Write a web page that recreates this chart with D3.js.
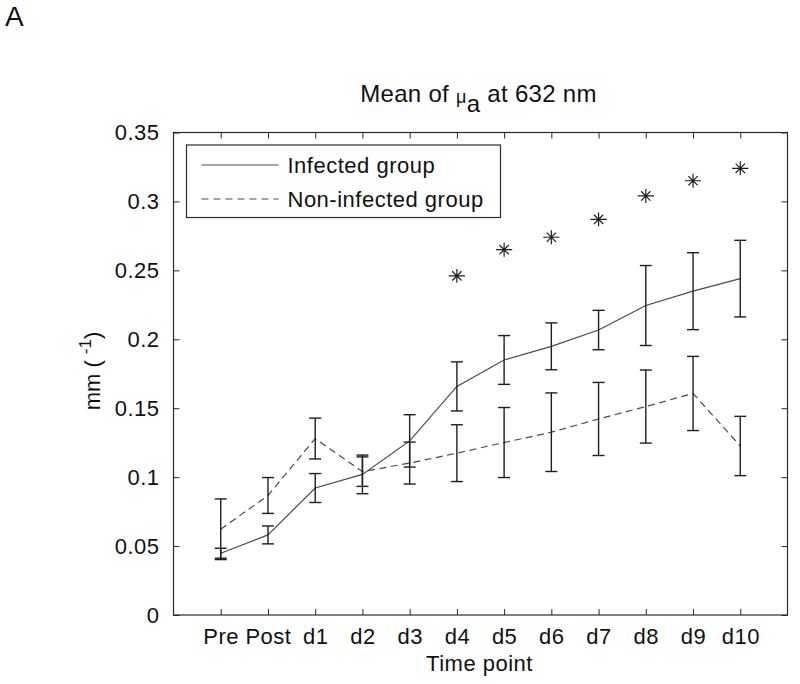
<!DOCTYPE html>
<html>
<head>
<meta charset="utf-8">
<script src="https://cdn.jsdelivr.net/npm/d3@7"></script>
<style>
  html, body { margin: 0; padding: 0; background: #fff; }
  svg { display: block; }
  text { font-family: "Liberation Sans", Arial, sans-serif; fill: #111; }
</style>
</head>
<body>
<svg id="chart" width="800" height="684"></svg>
<script>
// ---------------- data ----------------
const categories = ["Pre", "Post", "d1", "d2", "d3", "d4", "d5", "d6", "d7", "d8", "d9", "d10"];
const infectedMean = [0.0448, 0.0581, 0.0921, 0.102, 0.1263, 0.1658, 0.185, 0.1949, 0.2067, 0.2245, 0.2349, 0.244];
const infectedErr  = [0.0036, 0.0065, 0.0105, 0.014, 0.019, 0.0178, 0.0177, 0.017, 0.0143, 0.029, 0.0279, 0.0278];
const nonInfectedMean = [0.0622, 0.0867, 0.128, 0.104, 0.1102, 0.1174, 0.1251, 0.1326, 0.1422, 0.1512, 0.1607, 0.1226];
const nonInfectedErr  = [0.022, 0.013, 0.0148, 0.0107, 0.0152, 0.0206, 0.0254, 0.0285, 0.0265, 0.0265, 0.0269, 0.0215];
const starValues = [null, null, null, null, null, 0.246, 0.265, 0.274, 0.287, 0.304, 0.315, 0.324];
const yTicks = [0, 0.05, 0.1, 0.15, 0.2, 0.25, 0.3, 0.35];
const yTickLabels = ["0", "0.05", "0.1", "0.15", "0.2", "0.25", "0.3", "0.35"];
const legendLabels = ["Infected group", "Non-infected group"];

// ---------------- layout ----------------
const plot = { left: 173.5, right: 787.5, top: 132.5, bottom: 615 };
const svg = d3.select("#chart");
const axisColor = "#2a2a2a";
const lineColor = "#4a4a4a";
const barColor = "#1e1e1e";

const x = d3.scaleLinear().domain([0, categories.length + 1]).range([plot.left, plot.right]);
const y = d3.scaleLinear().domain([0, 0.35]).range([plot.bottom, plot.top]);
const xPos = categories.map((c, i) => i + 1);

// panel label
svg.append("text").attr("x", 5).attr("y", 26)
  .style("font-size", "28px").text("A");

// title
const title = svg.append("text")
  .attr("x", (plot.left + plot.right) / 2 - 2).attr("y", 102)
  .attr("text-anchor", "middle")
  .style("font-size", "24px").style("letter-spacing", "0.3px");
title.append("tspan").text("Mean of ");
title.append("tspan").style("font-size", "18px").attr("dy", 1).text("\u03bc");
title.append("tspan").attr("dy", 9).text("a");
title.append("tspan").attr("dy", -10).text(" at 632 nm");

// axes
const tickFont = "22px";
const xAxis = d3.axisBottom(x).tickValues(xPos).tickFormat((d, i) => categories[i])
  .tickSizeInner(-6).tickSizeOuter(0).tickPadding(12);
const gx = svg.append("g").attr("transform", `translate(0,${plot.bottom})`).call(xAxis);
gx.select(".domain").remove();
gx.selectAll("line").attr("stroke", axisColor);
gx.selectAll("text").style("font-size", tickFont).style("letter-spacing", "0.5px")
  .attr("fill", "#111").attr("dy", "0.75em");

const xAxisTop = d3.axisTop(x).tickValues(xPos).tickFormat("").tickSizeInner(-6).tickSizeOuter(0);
const gxt = svg.append("g").attr("transform", `translate(0,${plot.top})`).call(xAxisTop);
gxt.select(".domain").remove();
gxt.selectAll("line").attr("stroke", axisColor);

const yAxis = d3.axisLeft(y).tickValues(yTicks).tickFormat((d, i) => yTickLabels[i])
  .tickSizeInner(-6).tickSizeOuter(0).tickPadding(14);
const gy = svg.append("g").attr("transform", `translate(${plot.left},0)`).call(yAxis);
gy.select(".domain").remove();
gy.selectAll("line").attr("stroke", axisColor);
gy.selectAll("text").style("font-size", tickFont).style("letter-spacing", "0.5px").attr("fill", "#111");

const yAxisRight = d3.axisRight(y).tickValues(yTicks).tickFormat("").tickSizeInner(-6).tickSizeOuter(0);
const gyr = svg.append("g").attr("transform", `translate(${plot.right},0)`).call(yAxisRight);
gyr.select(".domain").remove();
gyr.selectAll("line").attr("stroke", axisColor);

// frame
svg.append("rect")
  .attr("x", plot.left).attr("y", plot.top)
  .attr("width", plot.right - plot.left).attr("height", plot.bottom - plot.top)
  .attr("fill", "none").attr("stroke", axisColor).attr("stroke-width", 1.2);

// axis labels
svg.append("text").attr("x", (plot.left + plot.right) / 2 - 1).attr("y", 671)
  .attr("text-anchor", "middle").style("font-size", "22px").style("letter-spacing", "0.5px")
  .text("Time point");

const yl = svg.append("text")
  .attr("transform", "translate(100,371) rotate(-90)")
  .attr("text-anchor", "middle").style("font-size", "22px");
yl.append("tspan").text("mm ( ");
yl.append("tspan").attr("dy", -9).style("font-size", "17px").text("-1");
yl.append("tspan").attr("dy", 9).text(")");

// series
const line = d3.line().x((d, i) => x(xPos[i])).y(d => y(d));

svg.append("path").datum(nonInfectedMean)
  .attr("d", line).attr("fill", "none")
  .attr("stroke", lineColor).attr("stroke-width", 1.2).attr("stroke-dasharray", "7,4.5");

svg.append("path").datum(infectedMean)
  .attr("d", line).attr("fill", "none")
  .attr("stroke", lineColor).attr("stroke-width", 1.2);

// error bars
const capHalf = 6;
function errorBars(means, errs) {
  const g = svg.append("g").attr("stroke", barColor).attr("stroke-width", 1.4).attr("fill", "none");
  means.forEach((m, i) => {
    const cx = x(xPos[i]);
    const top = y(m + errs[i]), bot = y(m - errs[i]);
    g.append("line").attr("x1", cx).attr("x2", cx).attr("y1", top).attr("y2", bot);
    g.append("line").attr("x1", cx - capHalf).attr("x2", cx + capHalf).attr("y1", top).attr("y2", top);
    g.append("line").attr("x1", cx - capHalf).attr("x2", cx + capHalf).attr("y1", bot).attr("y2", bot);
  });
}
errorBars(nonInfectedMean, nonInfectedErr);
errorBars(infectedMean, infectedErr);

// asterisk markers
const asterisk = {
  draw(ctx, size) {
    const r = Math.sqrt(size) / 2;
    ctx.moveTo(-r * 1.05, 0); ctx.lineTo(r * 1.05, 0);
    ctx.moveTo(0, -r * 0.9); ctx.lineTo(0, r * 0.9);
    const d = r * 0.6;
    ctx.moveTo(-d, -d); ctx.lineTo(d, d);
    ctx.moveTo(-d, d); ctx.lineTo(d, -d);
  }
};
const starSym = d3.symbol().type(asterisk).size(240);
svg.append("g").selectAll("path")
  .data(starValues.map((v, i) => ({ v, i })).filter(d => d.v !== null))
  .join("path")
  .attr("transform", d => `translate(${x(xPos[d.i])},${y(d.v)})`)
  .attr("d", starSym)
  .attr("fill", "none").attr("stroke", barColor).attr("stroke-width", 1.2);

// legend
const lg = svg.append("g");
lg.append("rect").attr("x", 186.5).attr("y", 145).attr("width", 314).attr("height", 72.5)
  .attr("fill", "#fff").attr("stroke", axisColor).attr("stroke-width", 1.2);
const legendRows = [
  { label: legendLabels[0], dash: null, y: 165 },
  { label: legendLabels[1], dash: "7,5", y: 199 }
];
legendRows.forEach(r => {
  lg.append("line").attr("x1", 201.5).attr("x2", 278.5).attr("y1", r.y).attr("y2", r.y)
    .attr("stroke", lineColor).attr("stroke-width", 1.2)
    .attr("stroke-dasharray", r.dash);
  lg.append("text").attr("x", 287.5).attr("y", r.y).attr("dy", "0.36em")
    .style("font-size", "22px").style("letter-spacing", "0.5px").text(r.label);
});
</script>
</body>
</html>
